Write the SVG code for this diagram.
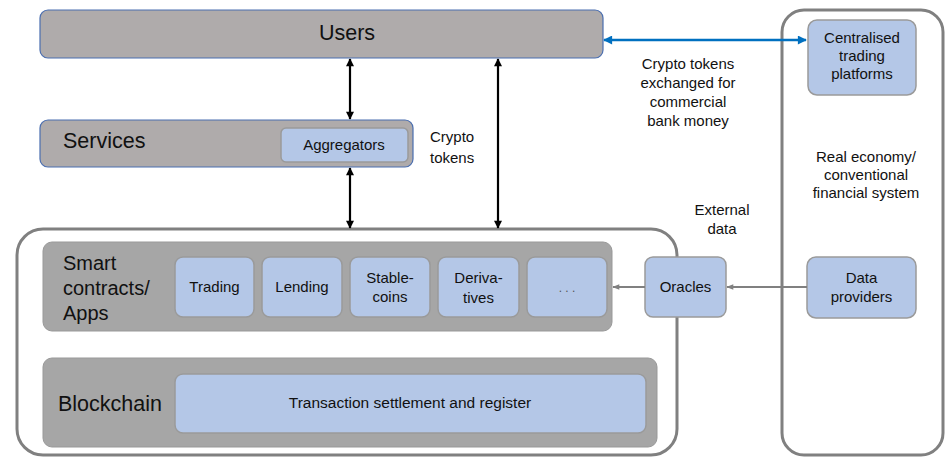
<svg xmlns="http://www.w3.org/2000/svg" width="948" height="458" viewBox="0 0 948 458">
<style>
text{font-family:"Liberation Sans",Arial,sans-serif;fill:#111;}
.lay{fill:#afabab;stroke:#4a6eb0;stroke-width:1.2;}
.band{fill:#a6a6a6;stroke:#999;stroke-width:1;}
.blue{fill:#b4c7e7;stroke:#9a9a9a;stroke-width:1.5;}
.outer{fill:none;stroke:#808080;stroke-width:3;}
.big{font-size:20px;}
.lg{font-size:21.5px;}
.mid{font-size:15px;}
.sm{font-size:15.5px;}
.c{text-anchor:middle;}
</style>
<defs>
<marker id="ak" markerUnits="userSpaceOnUse" viewBox="0 0 10 10" refX="9" refY="5" markerWidth="9" markerHeight="8" orient="auto-start-reverse"><path d="M0,0L10,5L0,10z" fill="#000"/></marker>
<marker id="ab" markerUnits="userSpaceOnUse" viewBox="0 0 10 10" refX="9" refY="5" markerWidth="10" markerHeight="9" orient="auto-start-reverse"><path d="M0,0L10,5L0,10z" fill="#0070c0"/></marker>
<marker id="ag" markerUnits="userSpaceOnUse" viewBox="0 0 10 10" refX="9" refY="5" markerWidth="8" markerHeight="7" orient="auto"><path d="M0,1L10,5L0,9z" fill="#808080"/></marker>
</defs>
<rect width="948" height="458" fill="#fff"/>
<g id="realeconomy">
<rect class="outer" x="782" y="10" width="161" height="445" rx="22"/>
<text class="mid c" x="866" y="162">Real economy/</text>
<text class="mid c" x="866" y="180">conventional</text>
<text class="mid c" x="866" y="198">financial system</text>
</g>
<g id="defi">
<rect class="outer" x="17" y="229" width="660" height="226" rx="26"/>
</g>
<g id="users">
<rect class="lay" x="40" y="10" width="563" height="48" rx="8"/>
<text class="lg c" x="347" y="40">Users</text>
</g>
<g id="services">
<rect class="lay" x="40" y="120" width="373" height="47" rx="8"/>
<text class="lg" x="63" y="148">Services</text>
</g>
<g id="aggregators">
<rect class="blue" x="281" y="128" width="127" height="34" rx="5"/>
<text class="mid c" x="344" y="150">Aggregators</text>
</g>
<g id="smartcontracts">
<rect class="band" x="43" y="242" width="569" height="89" rx="9"/>
<text class="big" x="63" y="270">Smart</text>
<text class="big" x="63" y="295">contracts/</text>
<text class="big" x="63" y="320">Apps</text>
</g>
<g id="trading">
<rect class="blue" x="175" y="257" width="79" height="60" rx="8"/>
<text class="mid c" x="214.5" y="292">Trading</text>
</g>
<g id="lending">
<rect class="blue" x="262" y="257" width="80" height="60" rx="8"/>
<text class="mid c" x="302" y="292">Lending</text>
</g>
<g id="stablecoins">
<rect class="blue" x="350" y="257" width="80" height="60" rx="8"/>
<text class="mid c" x="390" y="283">Stable-</text>
<text class="mid c" x="390" y="302">coins</text>
</g>
<g id="derivatives">
<rect class="blue" x="438" y="257" width="81" height="60" rx="8"/>
<text class="mid c" x="478.5" y="283">Deriva-</text>
<text class="mid c" x="478.5" y="303">tives</text>
</g>
<g id="more">
<rect class="blue" x="527" y="257" width="80" height="60" rx="8"/>
<text class="c" x="567" y="292" style="font-size:12px;fill:#555">. . .</text>
</g>
<g id="blockchain">
<rect class="band" x="43" y="358" width="614" height="89" rx="9"/>
<text class="lg" x="58" y="411">Blockchain</text>
</g>
<g id="settlement">
<rect class="blue" x="175" y="374" width="471" height="59" rx="8"/>
<text class="sm c" x="410" y="408">Transaction settlement and register</text>
</g>
<g id="oracles">
<rect class="blue" x="645" y="257" width="81" height="60" rx="8"/>
<text class="mid c" x="685.5" y="292">Oracles</text>
</g>
<g id="centralised">
<rect class="blue" x="808" y="20" width="108" height="75" rx="9"/>
<text class="mid c" x="862" y="43">Centralised</text>
<text class="mid c" x="862" y="61">trading</text>
<text class="mid c" x="862" y="79">platforms</text>
</g>
<g id="dataproviders">
<rect class="blue" x="807" y="257" width="109" height="61" rx="9"/>
<text class="mid c" x="861.5" y="283">Data</text>
<text class="mid c" x="861.5" y="302">providers</text>
</g>
<g id="connectors">
<line x1="350" y1="59" x2="350" y2="119" stroke="#000" stroke-width="2.2" marker-start="url(#ak)" marker-end="url(#ak)"/>
<line x1="350" y1="168" x2="350" y2="228" stroke="#000" stroke-width="2.2" marker-start="url(#ak)" marker-end="url(#ak)"/>
<line x1="498" y1="59" x2="498" y2="228" stroke="#000" stroke-width="2.2" marker-start="url(#ak)" marker-end="url(#ak)"/>
<line x1="604" y1="40" x2="806" y2="40" stroke="#0070c0" stroke-width="2.5" marker-start="url(#ab)" marker-end="url(#ab)"/>
<line x1="645" y1="287" x2="613" y2="287" stroke="#808080" stroke-width="2" marker-end="url(#ag)"/>
<line x1="807" y1="287" x2="727" y2="287" stroke="#808080" stroke-width="2" marker-end="url(#ag)"/>
<text class="mid" x="430" y="142">Crypto</text>
<text class="mid" x="430" y="163">tokens</text>
<text class="mid c" x="688" y="69">Crypto tokens</text>
<text class="mid c" x="688" y="88">exchanged for</text>
<text class="mid c" x="688" y="107">commercial</text>
<text class="mid c" x="688" y="126">bank money</text>
<text class="mid c" x="722" y="215">External</text>
<text class="mid c" x="722" y="234">data</text>
</g>
</svg>
